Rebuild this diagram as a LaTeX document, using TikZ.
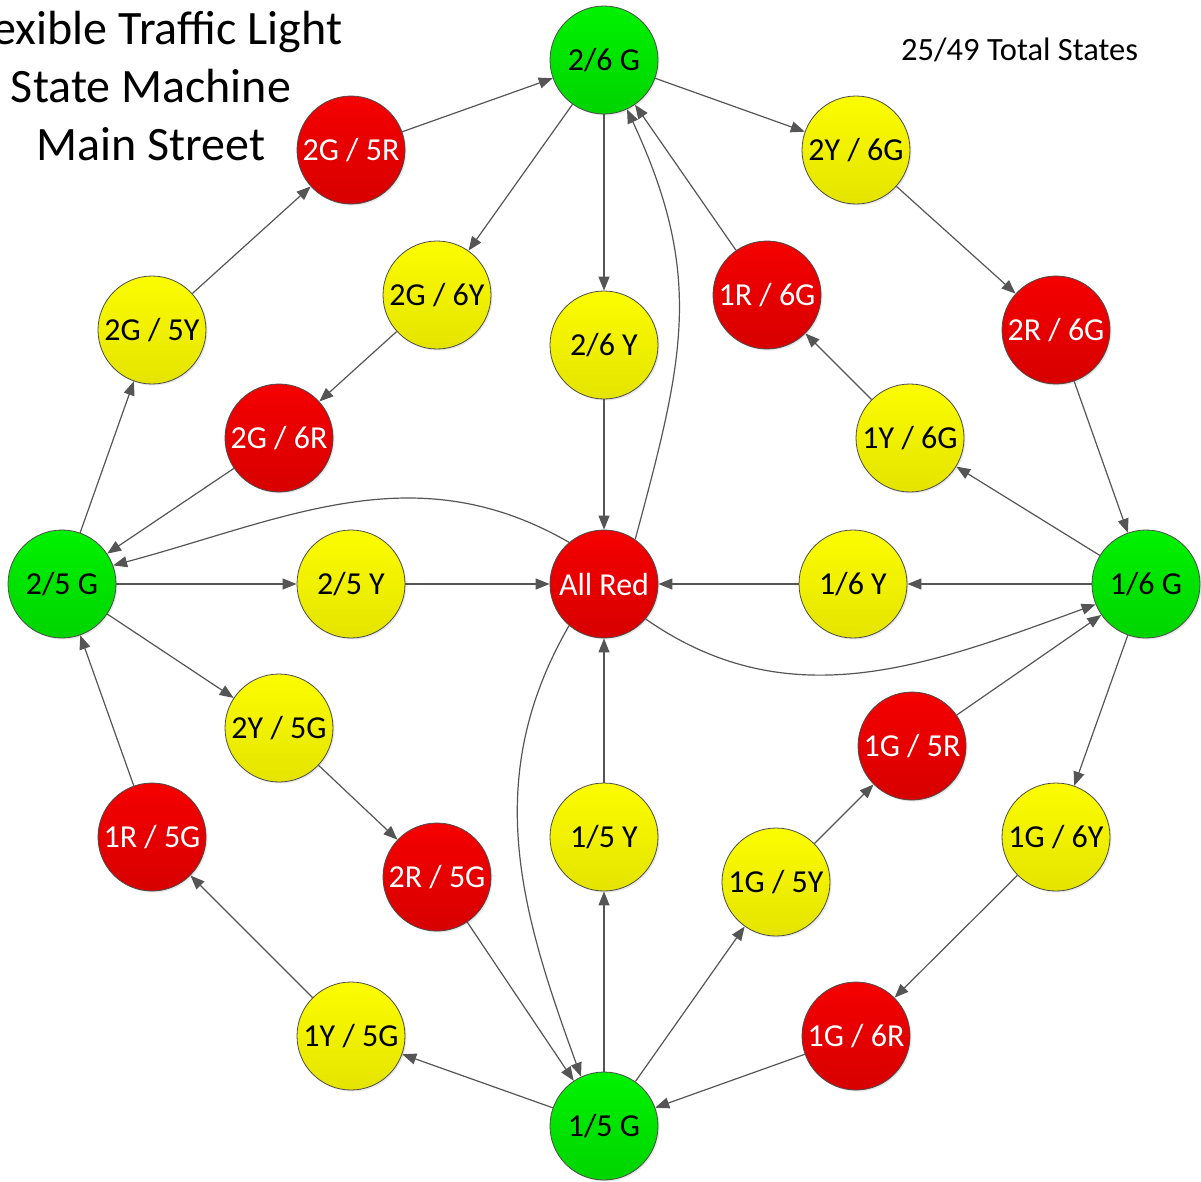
\documentclass[tikz,border=0pt]{standalone}
\usepackage{fontspec}
\setmainfont{Carlito}
\usetikzlibrary{arrows.meta,shadows}
\definecolor{grnT}{RGB}{0,242,0}
\definecolor{grnB}{RGB}{0,212,0}
\definecolor{ylwT}{RGB}{252,252,0}
\definecolor{ylwB}{RGB}{228,228,0}
\definecolor{redT}{RGB}{245,0,0}
\definecolor{redB}{RGB}{215,0,0}
\definecolor{lineC}{RGB}{85,85,85}
\tikzset{
  state/.style={circle, draw=black!70, line width=0.8pt, minimum size=108pt, inner sep=0pt,
    font=\fontsize{32}{38}\selectfont,
    drop shadow={opacity=0.2, shadow xshift=1.5pt, shadow yshift=-1.5pt}},
  grn/.style={state, top color=grnT, bottom color=grnB, text=black},
  ylw/.style={state, top color=ylwT, bottom color=ylwB, text=black},
  rd/.style={state, top color=redT, bottom color=redB, text=white},
  edge/.style={draw=lineC, line width=1.2pt, -{Triangle[length=14pt,width=11pt]}},
}

\begin{document}
\begin{tikzpicture}[x=1pt, y=-1pt]
  \useasboundingbox (0,0) rectangle (1201,1181);
  % titles
  \node[align=center, anchor=north, inner sep=0pt, font=\fontsize{48}{58}\selectfont] (title) at (151,11)
    {Flexible Traffic Light\\State Machine\\Main Street};
  \node[anchor=base west, inner sep=0pt, font=\fontsize{32.5}{38}\selectfont] (total) at (901,60) {25/49 Total States};
  % green states
  \node[grn] (g26) at (604,60) {2/6 G};
  \node[grn] (g25) at (62,584) {2/5 G};
  \node[grn] (g16) at (1146,584) {1/6 G};
  \node[grn] (g15) at (604,1126) {1/5 G};
  % center
  \node[rd] (allred) at (604,584) {All Red};
  % yellow states
  \node[ylw] (y26) at (604,345) {2/6 Y};
  \node[ylw] (y25) at (351,584) {2/5 Y};
  \node[ylw] (y16) at (853,584) {1/6 Y};
  \node[ylw] (y15) at (604,837) {1/5 Y};
  \node[ylw] (s2Y6G) at (856,150) {2Y / 6G};
  \node[ylw] (s2G5Y) at (152,330) {2G / 5Y};
  \node[ylw] (s2G6Y) at (437,295) {2G / 6Y};
  \node[ylw] (s1Y6G) at (910,438) {1Y / 6G};
  \node[ylw] (s2Y5G) at (279,728) {2Y / 5G};
  \node[ylw] (s1G6Y) at (1056,837) {1G / 6Y};
  \node[ylw] (s1G5Y) at (776,882) {1G / 5Y};
  \node[ylw] (s1Y5G) at (351,1036) {1Y / 5G};
  % red states
  \node[rd] (s2G5R) at (351,150) {2G / 5R};
  \node[rd] (s1R6G) at (767,295) {1R / 6G};
  \node[rd] (s2R6G) at (1056,330) {2R / 6G};
  \node[rd] (s2G6R) at (279,438) {2G / 6R};
  \node[rd] (s1G5R) at (912,746) {1G / 5R};
  \node[rd] (s1R5G) at (152,837) {1R / 5G};
  \node[rd] (s2R5G) at (437,877) {2R / 5G};
  \node[rd] (s1G6R) at (856,1036) {1G / 6R};
  % straight transitions
  \foreach \a/\b in {s2G5R/g26, g26/s2Y6G, s2Y6G/s2R6G, s2R6G/g16,
                     g16/s1G6Y, s1G6Y/s1G6R, s1G6R/g15, g15/s1Y5G,
                     s1Y5G/s1R5G, s1R5G/g25, g25/s2G5Y, s2G5Y/s2G5R,
                     g26/s2G6Y, s2G6Y/s2G6R, s2G6R/g25,
                     g16/s1Y6G, s1Y6G/s1R6G, s1R6G/g26,
                     g25/s2Y5G, s2Y5G/s2R5G, s2R5G/g15,
                     g15/s1G5Y, s1G5Y/s1G5R, s1G5R/g16,
                     g26/y26, y26/allred, g25/y25, y25/allred,
                     g16/y16, y16/allred, g15/y15, y15/allred}{
    \draw[edge] (\a) -- (\b);
  }
  % curved transitions out of all red
  \draw[edge] (allred.55) to[out=75, in=-65, looseness=1.1] (g26.-65);
  \draw[edge] (allred.130) to[out=150, in=15] (g25.20);
  \draw[edge] (allred.-40) to[out=-35, in=-160] (g16.-158);
  \draw[edge] (allred.-130) to[out=-120, in=110] (g15.115);
\end{tikzpicture}
\end{document}
